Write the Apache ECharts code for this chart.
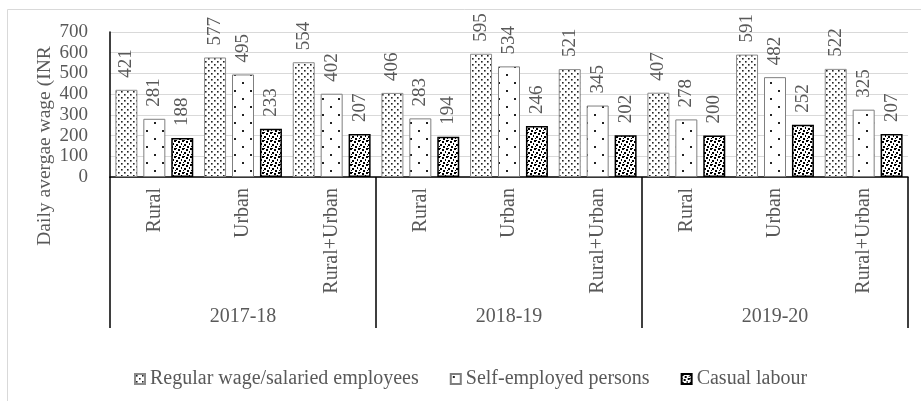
<!DOCTYPE html>
<html>
<head>
<meta charset="utf-8">
<script src="https://cdn.jsdelivr.net/npm/echarts@6/dist/echarts.min.js"></script>
<style>
  html, body { margin: 0; padding: 0; background: #fff; }
  #chart { width: 921px; height: 401px; }
</style>
</head>
<body>
<div id="chart"></div>
<script>
// Survey periods and the area breakdown shown under each one
const years = ['2017-18', '2018-19', '2019-20'];
const areas = ['Rural', 'Urban', 'Rural+Urban'];
const categories = [
  'Rural', 'Urban', 'Rural+Urban',
  'Rural', 'Urban', 'Rural+Urban',
  'Rural', 'Urban', 'Rural+Urban'
];

// Daily average wage (INR) by employment type
const regularWage = [421, 577, 554, 406, 595, 521, 407, 591, 522];
const selfEmployed = [281, 495, 402, 283, 534, 345, 278, 482, 325];
const casualLabour = [188, 233, 207, 194, 246, 202, 200, 252, 207];

const yTicks = { min: 0, max: 700, interval: 100 };

const FONT = 'Liberation Serif';
const TEXT = '#595959';

// Fill patterns drawn on small tiles
function tile(w, h, draw) {
  const c = document.createElement('canvas');
  c.width = w; c.height = h;
  const g = c.getContext('2d');
  g.fillStyle = '#fff';
  g.fillRect(0, 0, w, h);
  g.fillStyle = '#222';
  draw(g);
  return c;
}
const densePattern = tile(6, 6, g => {
  g.fillRect(1, 1, 1.6, 1.6);
  g.fillRect(4, 4, 1.6, 1.6);
});
const sparsePattern = tile(16, 16, g => {
  g.fillRect(2, 2, 2, 2);
  g.fillRect(10, 10, 2, 2);
});
const confettiRows = [
  '11000100',
  '11000000',
  '00011001',
  '00011000',
  '10000011',
  '00110011',
  '00110000',
  '00000100'
];
const confettiPattern = tile(8, 8, g => {
  g.fillStyle = '#000';
  confettiRows.forEach((row, y) => {
    for (let x = 0; x < row.length; x++) {
      if (row[x] === '1') g.fillRect(x, y, 1, 1);
    }
  });
});

const labelStyle = {
  show: true,
  position: 'top',
  rotate: 90,
  align: 'left',
  verticalAlign: 'middle',
  distance: 12,
  color: TEXT,
  fontFamily: FONT,
  fontSize: 19
};

const chart = echarts.init(document.getElementById('chart'));
chart.setOption({
  animation: false,
  backgroundColor: '#fff',
  textStyle: { fontFamily: FONT, color: TEXT },
  graphic: [
    {
      type: 'rect',
      shape: { x: 7.5, y: 9.5, width: 1000, height: 600 },
      style: { fill: 'none', stroke: '#d9d9d9', lineWidth: 1 },
      silent: true
    },
    {
      type: 'text',
      x: 45,
      y: 146,
      rotation: Math.PI / 2,
      style: {
        text: 'Daily avergae wage (INR',
        fill: TEXT,
        font: '19.5px "Liberation Serif"',
        align: 'center',
        verticalAlign: 'middle'
      }
    }
  ],
  grid: { left: 110, right: 13, top: 32, bottom: 224, containLabel: false },
  legend: {
    bottom: 7,
    left: 129,
    icon: 'rect',
    itemWidth: 10,
    itemHeight: 10,
    itemGap: 31,
    textStyle: { color: TEXT, fontFamily: FONT, fontSize: 20, padding: [0, 0, 0, 0] },
    data: ['Regular wage/salaried employees', 'Self-employed persons', 'Casual labour']
  },
  xAxis: [
    {
      type: 'category',
      position: 'bottom',
      data: categories,
      axisLine: { show: true, lineStyle: { color: '#000', width: 1.5 } },
      axisTick: { show: false },
      axisLabel: {
        interval: 0,
        rotate: 90,
        margin: 11,
        color: TEXT,
        fontFamily: FONT,
        fontSize: 20
      }
    },
    {
      type: 'category',
      position: 'bottom',
      data: years,
      axisLine: { show: false },
      axisTick: {
        show: true,
        interval: 0,
        length: 151,
        lineStyle: { color: '#000', width: 1.5 }
      },
      axisLabel: {
        interval: 0,
        margin: 130,
        color: TEXT,
        fontFamily: FONT,
        fontSize: 20
      }
    }
  ],
  yAxis: {
    type: 'value',
    min: yTicks.min,
    max: yTicks.max,
    interval: yTicks.interval,
    axisLine: { show: true, lineStyle: { color: '#000', width: 1.5 } },
    axisTick: { show: false },
    axisLabel: { margin: 22, color: TEXT, fontFamily: FONT, fontSize: 19 },
    splitLine: { lineStyle: { color: '#d9d9d9', width: 1 } }
  },
  series: [
    {
      name: 'Regular wage/salaried employees',
      type: 'bar',
      data: regularWage,
      barWidth: 22,
      barGap: '27%',
      itemStyle: {
        color: { image: densePattern, repeat: 'repeat' },
        borderColor: '#8c8c8c',
        borderWidth: 1
      },
      label: labelStyle
    },
    {
      name: 'Self-employed persons',
      type: 'bar',
      data: selfEmployed,
      barWidth: 22,
      barGap: '27%',
      itemStyle: {
        color: { image: sparsePattern, repeat: 'repeat' },
        borderColor: '#7f7f7f',
        borderWidth: 1
      },
      label: labelStyle
    },
    {
      name: 'Casual labour',
      type: 'bar',
      data: casualLabour,
      barWidth: 22,
      barGap: '27%',
      itemStyle: {
        color: { image: confettiPattern, repeat: 'repeat' },
        borderColor: '#000',
        borderWidth: 1.5
      },
      label: labelStyle
    }
  ]
});
</script>
</body>
</html>
